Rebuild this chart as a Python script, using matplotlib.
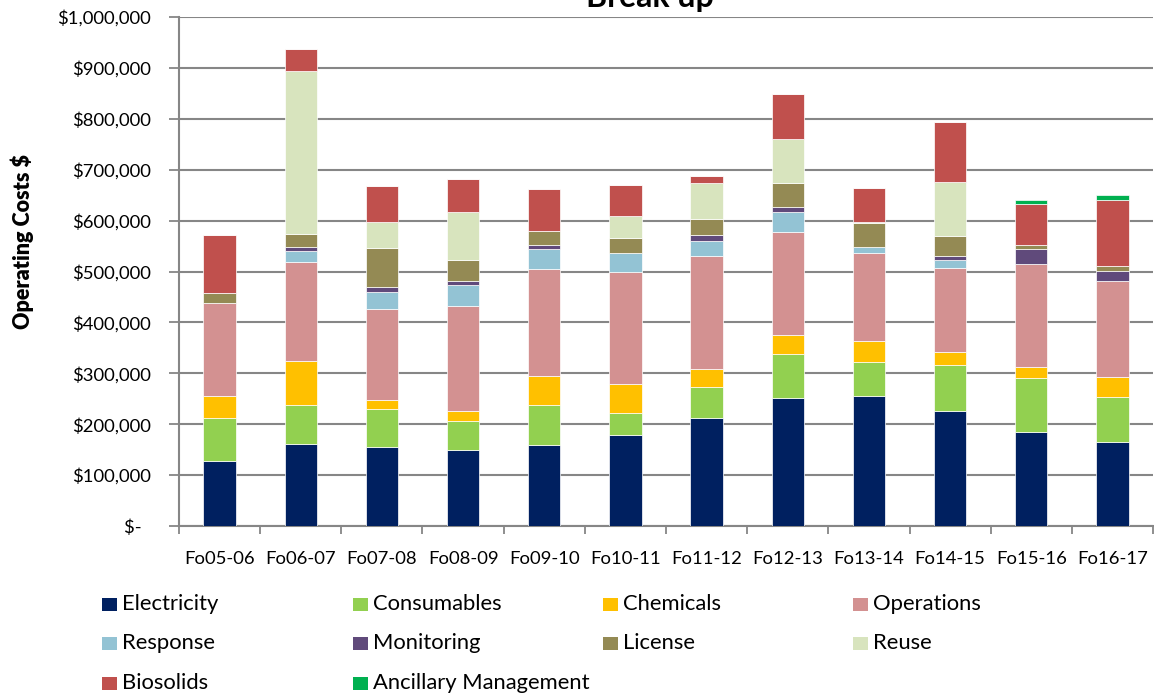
import matplotlib
matplotlib.use("Agg")
import matplotlib.pyplot as plt
import numpy as np
from matplotlib.patches import Rectangle
from matplotlib.ticker import FixedLocator, FuncFormatter

plt.rcParams['font.family'] = ['Lato', 'DejaVu Sans']

categories = ["Fo05-06", "Fo06-07", "Fo07-08", "Fo08-09", "Fo09-10", "Fo10-11",
              "Fo11-12", "Fo12-13", "Fo13-14", "Fo14-15", "Fo15-16", "Fo16-17"]

electricity = [128000, 161000, 155000, 149000, 160000, 179000, 213000, 252000, 255000, 226000, 184000, 166000]
consumables = [85000, 76000, 75000, 58000, 77000, 43000, 61000, 85000, 67000, 91000, 107000, 88000]
chemicals = [43000, 88000, 18000, 19000, 57000, 56000, 35000, 38000, 42000, 24000, 21000, 39000]
operations = [182000, 193000, 179000, 207000, 211000, 221000, 221000, 203000, 173000, 165000, 202000, 188000]
response = [0, 23000, 33000, 41000, 39000, 37000, 29000, 39000, 11000, 17000, 0, 0]
monitoring = [0, 8000, 10000, 7000, 8000, 0, 12000, 10000, 0, 7000, 31000, 20000]
license_ = [20000, 24000, 77000, 41000, 28000, 30000, 33000, 47000, 47000, 40000, 8000, 9000]
reuse = [0, 321000, 51000, 95000, 0, 43000, 70000, 86000, 2000, 105000, 0, 0]
biosolids = [113000, 44000, 69000, 65000, 83000, 60000, 14000, 88000, 67000, 119000, 80000, 130000]
ancillary = [0, 0, 0, 0, 0, 0, 0, 0, 0, 0, 7000, 10000]

series_names = ["Electricity", "Consumables", "Chemicals", "Operations", "Response",
                "Monitoring", "License", "Reuse", "Biosolids", "Ancillary Management"]
series_values = [electricity, consumables, chemicals, operations, response,
                 monitoring, license_, reuse, biosolids, ancillary]
series_colors = ["#002060", "#92D050", "#FFC000", "#D39191", "#93C3D4",
                 "#604A7B", "#948A54", "#D8E4BE", "#C0504D", "#00B050"]

W, H = 1154, 696
fig = plt.figure(figsize=(W / 100, H / 100), dpi=100)
ax = fig.add_axes([179 / W, 1 - 526 / H, (1153 - 179) / W, (526 - 17) / H])

x = np.arange(len(categories))
bottom = np.zeros(len(categories))
for name, vals, col in zip(series_names, series_values, series_colors):
    v = np.array(vals, dtype=float)
    ax.bar(x, v, width=0.40, bottom=bottom, color=col, edgecolor="white",
           linewidth=0.5, label=name, zorder=3)
    bottom += v

ax.set_xlim(-0.5, len(categories) - 0.5)
ax.set_ylim(0, 1_000_000)

grid_c = "#868686"
ax.yaxis.set_major_locator(FixedLocator(np.arange(0, 1_000_001, 100_000)))
ax.yaxis.set_major_formatter(FuncFormatter(lambda v, p: "$-  " if v == 0 else f"${v:,.0f}"))
ax.grid(axis="y", color=grid_c, linewidth=1.5, zorder=0)
ax.set_axisbelow(True)

ax.set_xticks(x)
ax.set_xticklabels(categories)
ax.set_xticks(np.arange(-0.5, len(categories), 1.0), minor=True)
ax.tick_params(axis="x", which="major", length=0, pad=18, labelsize=13.3, labelcolor="#000000")
ax.tick_params(axis="x", which="minor", length=6, width=1.3, color=grid_c, direction="out")
ax.tick_params(axis="y", length=7, width=1.3, color=grid_c, pad=13, labelsize=13.3)

for s in ["top", "right"]:
    ax.spines[s].set_visible(False)
for s in ["left", "bottom"]:
    ax.spines[s].set_color(grid_c)
    ax.spines[s].set_linewidth(1.5)

fig.text(22 / W, 1 - 242 / H, "Operating Costs $", rotation=90, ha="center", va="center",
         fontsize=15.5, fontweight="heavy")
fig.text(650 / W, 1 - 7 / H, "Break up", ha="center", va="baseline",
         fontsize=23, fontweight="bold")

# legend laid out in four equal-width columns
col_x = [102, 353, 603, 853]
row_y = [604, 643, 683]
box = 14
for i, (name, col) in enumerate(zip(series_names, series_colors)):
    cx = col_x[i % 4]
    cy = row_y[i // 4]
    fig.add_artist(Rectangle((cx / W, 1 - (cy + box / 2) / H), 15 / W, 13 / H,
                             transform=fig.transFigure, facecolor=col, edgecolor="none"))
    fig.text((cx + 20) / W, 1 - cy / H, name, ha="left", va="center", fontsize=15.8)

fig.savefig("out.png", dpi=100)
